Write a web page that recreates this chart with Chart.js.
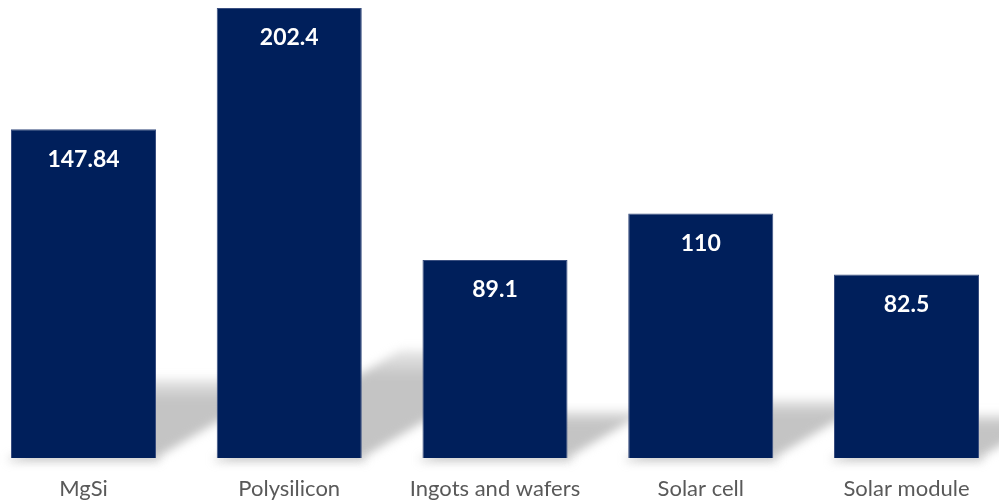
<!DOCTYPE html>
<html>
<head>
<meta charset="utf-8">
<script src="https://cdn.jsdelivr.net/npm/chart.js@4.4.1/dist/chart.umd.min.js"></script>
<style>
  html, body { margin: 0; padding: 0; background: #ffffff; }
  #wrap { width: 999px; height: 502px; position: relative; }
</style>
</head>
<body>
<div id="wrap"><canvas id="barChart"></canvas></div>
<script>
const categories = ["MgSi", "Polysilicon", "Ingots and wafers", "Solar cell", "Solar module"];
const values = [147.84, 202.4, 89.1, 110, 82.5];

const barColor = "#001F5B";

// soft slanted shadow behind each bar
const shadowPlugin = {
  id: "barShadow",
  beforeDatasetsDraw(chart) {
    const ctx = chart.ctx;
    const meta = chart.getDatasetMeta(0);
    meta.data.forEach((bar) => {
      const w = bar.width;
      const h = (bar.base - bar.y) * 0.24;
      const dx = h * 1.7;
      const l = bar.x - w / 2;
      const r = bar.x + w / 2;
      ctx.save();
      ctx.filter = "blur(5px)";
      const g = ctx.createLinearGradient(0, bar.base - h, 0, bar.base);
      g.addColorStop(0, "rgba(200,200,200,0.4)");
      g.addColorStop(0.25, "rgba(196,196,196,1)");
      g.addColorStop(1, "rgba(196,196,196,1)");
      ctx.fillStyle = g;
      ctx.beginPath();
      ctx.moveTo(l + 4, bar.base);
      ctx.lineTo(r, bar.base);
      ctx.lineTo(r + dx, bar.base - h);
      ctx.lineTo(l + dx, bar.base - h);
      ctx.closePath();
      ctx.fill();
      // small shadow under the bar
      ctx.fillStyle = "rgba(150,150,150,0.35)";
      ctx.fillRect(l - 2, bar.base - 2, w + 6, 6);
      ctx.restore();
    });
  },
};

const valueLabels = {
  id: "valueLabels",
  afterDatasetsDraw(chart) {
    const ctx = chart.ctx;
    const meta = chart.getDatasetMeta(0);
    ctx.save();
    ctx.fillStyle = "#ffffff";
    ctx.font = "bold 23px Lato, 'Open Sans', sans-serif";
    ctx.textAlign = "center";
    ctx.textBaseline = "middle";
    meta.data.forEach((bar, i) => {
      ctx.fillText(String(values[i]), bar.x, bar.y + 30);
    });
    ctx.restore();
  },
};

new Chart(document.getElementById("barChart"), {
  type: "bar",
  data: {
    labels: categories,
    datasets: [
      {
        data: values,
        backgroundColor: barColor,
        borderColor: "#3a4f80",
        borderWidth: 1,
        categoryPercentage: 1,
        barPercentage: 0.705,
        clip: false,
      },
    ],
  },
  options: {
    responsive: true,
    maintainAspectRatio: false,
    animation: false,
    layout: { padding: { top: 8, left: 83.5, right: 92.5, bottom: 0 } },
    plugins: {
      legend: { display: false },
      tooltip: { enabled: false },
    },
    scales: {
      x: {
        offset: false,
        grid: { display: false, drawTicks: false },
        border: { display: false },
        ticks: {
          color: "#595959",
          font: { family: "Lato, 'Open Sans', sans-serif", size: 22 },
          padding: 18,
          maxRotation: 0,
          autoSkip: false,
        },
        afterFit(scale) {
          scale.height = 44;
        },
      },
      y: {
        display: false,
        min: 0,
        max: 202.4,
      },
    },
  },
  plugins: [shadowPlugin, valueLabels],
});
</script>
</body>
</html>
